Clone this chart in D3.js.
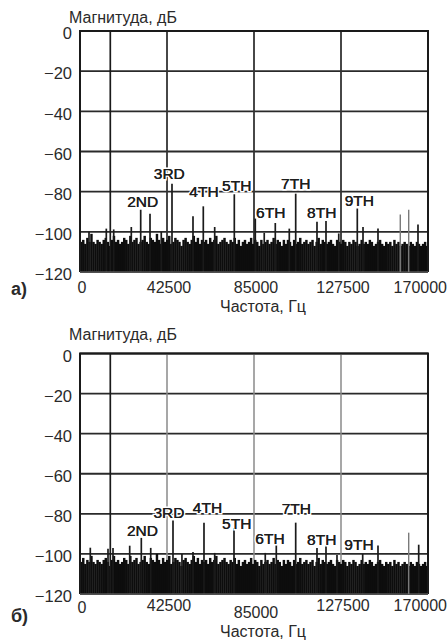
<!DOCTYPE html>
<html><head><meta charset="utf-8">
<script src="https://cdn.jsdelivr.net/npm/d3@7"></script>
<style>body{margin:0;background:#fff} svg{display:block}</style>
</head><body>
<svg id="c" width="448" height="644"></svg>
<script>
// ---------- data ----------
const xTicks = [0, 42500, 85000, 127500, 170000];
const yTicks = [0, -20, -40, -60, -80, -100, -120];
const harmonicNames = ["2ND", "3RD", "4TH", "5TH", "6TH", "7TH", "8TH", "9TH"];
const noiseStepHz = 1000;

// chart a) : spectral lines [frequency Hz, level dB]
const spikesA = [
  [14800, 0], [4400, -100], [12850, -98.4], [16460, -98.8], [25060, -97.6],
  [29650, -89], [34200, -91], [39700, -100], [44940, -76], [55200, -92.3],
  [60230, -87.3], [65800, -97.6], [75380, -81.3], [85630, -93.4], [90000, -100.5],
  [95400, -95.6], [102240, -98.4], [105370, -81], [115770, -95], [120170, -94.6],
  [126400, -100.8], [135460, -88.4], [138250, -97.6], [145570, -98.4], [165110, -96.4]
];
const faintSpikesA = [[156460, -91.4], [160570, -89]];
const labelFreqA = [30630, 43620, 60570, 76550, 93160, 105370, 118070, 136440];
const labelDbA   = [-84.7, -70.9, -80, -76.7, -90.5, -75.8, -90.5, -84.5];
const noiseA = [
  -105,-104,-106,-103,-105,-101,-105,-106,-104,-105,
  -106,-104,-103,-105,-107,-104,-102,-105,-104,-106,
  -105,-103,-104,-106,-102,-105,-104,-103,-106,-105,
  -104,-102,-105,-106,-103,-104,-105,-101,-104,-106,
  -103,-105,-104,-102,-106,-105,-103,-104,-105,-107,
  -104,-103,-105,-106,-104,-102,-105,-103,-106,-104,
  -105,-104,-106,-103,-105,-104,-102,-106,-105,-104,
  -103,-105,-106,-104,-105,-103,-106,-104,-107,-105,
  -104,-106,-105,-103,-106,-104,-105,-107,-104,-106,
  -105,-104,-106,-105,-103,-106,-104,-105,-107,-104,
  -106,-104,-105,-107,-104,-106,-105,-103,-106,-105,
  -104,-106,-105,-104,-107,-105,-103,-106,-104,-105,
  -106,-105,-104,-106,-107,-104,-105,-106,-104,-105,
  -107,-105,-106,-104,-105,-107,-106,-104,-106,-105,
  -106,-104,-105,-107,-106,-105,-104,-106,-107,-105,
  -106,-105,-107,-104,-106,-105,-107,-106,-105,-106,
  -107,-105,-106,-107,-105,-106,-107,-106,-105,-107
];

// chart б)
const spikesB = [
  [14800, 0], [5030, -96.9], [13680, -97.4], [16120, -97], [24280, -95.9],
  [29950, -92], [34550, -97], [45430, -83.3], [49800, -100], [55200, -99],
  [60570, -84.4], [65800, -99.5], [75230, -87.1], [90500, -99.5], [95890, -95.4],
  [105370, -84.4], [115770, -97.1], [120170, -95.8], [125540, -100.5], [138100, -100],
  [145570, -95.8], [165460, -95.4]
];
const faintSpikesB = [[160570, -89.4]];
const labelFreqB = [30530, 43480, 62280, 76550, 92820, 105660, 118070, 136290];
const labelDbB   = [-88.5, -79.5, -76.8, -84.8, -92.3, -77.1, -93, -95.3];
const noiseB = [
  -104,-102,-105,-103,-104,-101,-104,-105,-103,-104,
  -105,-103,-102,-104,-106,-103,-101,-104,-103,-105,
  -104,-102,-103,-105,-101,-104,-103,-102,-105,-104,
  -103,-101,-104,-105,-102,-103,-104,-100,-103,-105,
  -102,-104,-103,-101,-105,-104,-102,-103,-104,-106,
  -103,-102,-104,-105,-103,-101,-104,-102,-105,-103,
  -104,-103,-105,-102,-104,-103,-101,-105,-104,-103,
  -102,-104,-105,-103,-104,-102,-105,-103,-106,-104,
  -103,-105,-104,-102,-105,-103,-104,-106,-103,-105,
  -104,-103,-105,-104,-102,-105,-103,-104,-106,-103,
  -105,-103,-104,-106,-103,-105,-104,-102,-105,-104,
  -103,-105,-104,-103,-106,-104,-102,-105,-103,-104,
  -105,-104,-103,-105,-106,-103,-104,-105,-103,-104,
  -106,-104,-105,-103,-104,-106,-105,-103,-105,-104,
  -105,-103,-104,-106,-105,-104,-103,-105,-106,-104,
  -105,-104,-106,-103,-105,-104,-106,-105,-104,-105,
  -106,-104,-105,-106,-104,-105,-106,-105,-104,-106
];

// ---------- layout ----------
const FONT = "'Liberation Sans',Arial,sans-serif";
const svg = d3.select("#c");

const charts = [
  { tag: "a)", top: 31, bottom: 272, titleY: 22.7, xlabY: 311.5, tagY: 295,
    tickY: 292.5, tickDy: {}, vGrid: "#333", vGridW: 1.8,
    spikes: spikesA, faint: faintSpikesA, labF: labelFreqA, labD: labelDbA, noise: noiseA },
  { tag: "б)", top: 353.5, bottom: 594, titleY: 340, xlabY: 637, tagY: 622,
    tickY: 610.5, tickDy: {0: 2.5, 85000: 7}, vGrid: "#8a8a8a", vGridW: 1.5,
    spikes: spikesB, faint: faintSpikesB, labF: labelFreqB, labD: labelDbB, noise: noiseB }
];
const L = 80, R = 428;

charts.forEach(c => {
  const x = d3.scaleLinear().domain([0, 170000]).range([L, R]);
  const y = d3.scaleLinear().domain([-120, 0]).range([c.bottom, c.top]);
  const g = svg.append("g");

  // grid
  g.append("g").selectAll("line").data(yTicks).join("line")
    .attr("x1", L).attr("x2", R).attr("y1", d => y(d)).attr("y2", d => y(d))
    .attr("stroke", "#2a2a2a").attr("stroke-width", 1.8);
  g.append("g").selectAll("line").data(xTicks.slice(1, -1)).join("line")
    .attr("x1", d => x(d)).attr("x2", d => x(d)).attr("y1", c.top).attr("y2", c.bottom)
    .attr("stroke", c.vGrid).attr("stroke-width", c.vGridW);

  // noise floor
  const bw = x(noiseStepHz) - x(0);
  g.append("g").selectAll("rect").data(c.noise).join("rect")
    .attr("x", (d, i) => x(i * noiseStepHz))
    .attr("width", bw + 0.4)
    .attr("y", d => y(d)).attr("height", d => y(-120) - y(d))
    .attr("fill", "#0d0d0d");

  // spectral lines
  g.append("g").selectAll("line").data(c.faint).join("line")
    .attr("x1", d => x(d[0])).attr("x2", d => x(d[0]))
    .attr("y1", d => y(d[1])).attr("y2", y(-120))
    .attr("stroke", "#7a7a7a").attr("stroke-width", 1.4);
  g.append("g").selectAll("line").data(c.spikes).join("line")
    .attr("x1", d => x(d[0])).attr("x2", d => x(d[0]))
    .attr("y1", d => y(d[1])).attr("y2", y(-120))
    .attr("stroke", "#1a1a1a").attr("stroke-width", 1.7);

  // frame
  g.append("path")
    .attr("d", `M${L},${c.bottom}V${c.top}H${R}V${c.bottom}`)
    .attr("fill", "none").attr("stroke", "#1a1a1a").attr("stroke-width", 2);
  g.append("line").attr("x1", L).attr("x2", R).attr("y1", c.bottom).attr("y2", c.bottom)
    .attr("stroke", "#777").attr("stroke-width", 1);

  // harmonic labels (white halo knocks out the grid behind them)
  g.append("g").selectAll("text").data(harmonicNames).join("text")
    .attr("x", (d, i) => x(c.labF[i])).attr("y", (d, i) => y(c.labD[i]))
    .attr("dy", "0.36em").attr("text-anchor", "middle")
    .attr("font-family", FONT).attr("font-size", 15.5)
    .attr("fill", "#1e1e1e").attr("stroke", "#fff").attr("stroke-width", 3)
    .attr("paint-order", "stroke")
    .text(d => d);
  g.append("g").selectAll("text").data(harmonicNames).join("text")
    .attr("x", (d, i) => x(c.labF[i])).attr("y", (d, i) => y(c.labD[i]))
    .attr("dy", "0.36em").attr("text-anchor", "middle")
    .attr("font-family", FONT).attr("font-size", 15.5)
    .attr("fill", "#1e1e1e").attr("stroke", "#1e1e1e").attr("stroke-width", 0.2)
    .text(d => d);

  // y axis
  const ya = g.append("g").attr("transform", `translate(${L},2.5)`)
    .call(d3.axisLeft(y).tickValues(yTicks).tickSize(0).tickPadding(8).tickFormat(d3.format("d")));
  ya.select(".domain").remove();
  ya.selectAll("text").attr("font-family", FONT).attr("font-size", 16.5).attr("fill", "#2a2a2a");

  // x axis
  const xa = g.append("g")
    .call(d3.axisBottom(x).tickValues(xTicks).tickSize(0).tickFormat(d3.format("d")));
  xa.select(".domain").remove();
  xa.selectAll(".tick").attr("transform", d => `translate(${x(d)},0)`);
  xa.selectAll("text")
    .attr("y", d => c.tickY + (c.tickDy[d] || 0)).attr("dy", 0)
    .attr("x", (d, i) => i === xTicks.length - 1 ? 19 : 2)
    .attr("text-anchor", (d, i) => i === xTicks.length - 1 ? "end" : "middle")
    .attr("font-family", FONT).attr("font-size", 16).attr("fill", "#2a2a2a");

  // titles
  g.append("text").attr("x", 69).attr("y", c.titleY)
    .attr("font-family", FONT).attr("font-size", 16).attr("fill", "#2a2a2a")
    .text("Магнитуда, дБ");
  g.append("text").attr("x", 263).attr("y", c.xlabY).attr("text-anchor", "middle")
    .attr("font-family", FONT).attr("font-size", 16).attr("fill", "#2a2a2a")
    .text("Частота, Гц");
  g.append("text").attr("x", 11).attr("y", c.tagY)
    .attr("font-family", FONT).attr("font-size", 18).attr("font-weight", "bold").attr("fill", "#2a2a2a")
    .text(c.tag);
});
</script>
</body></html>
